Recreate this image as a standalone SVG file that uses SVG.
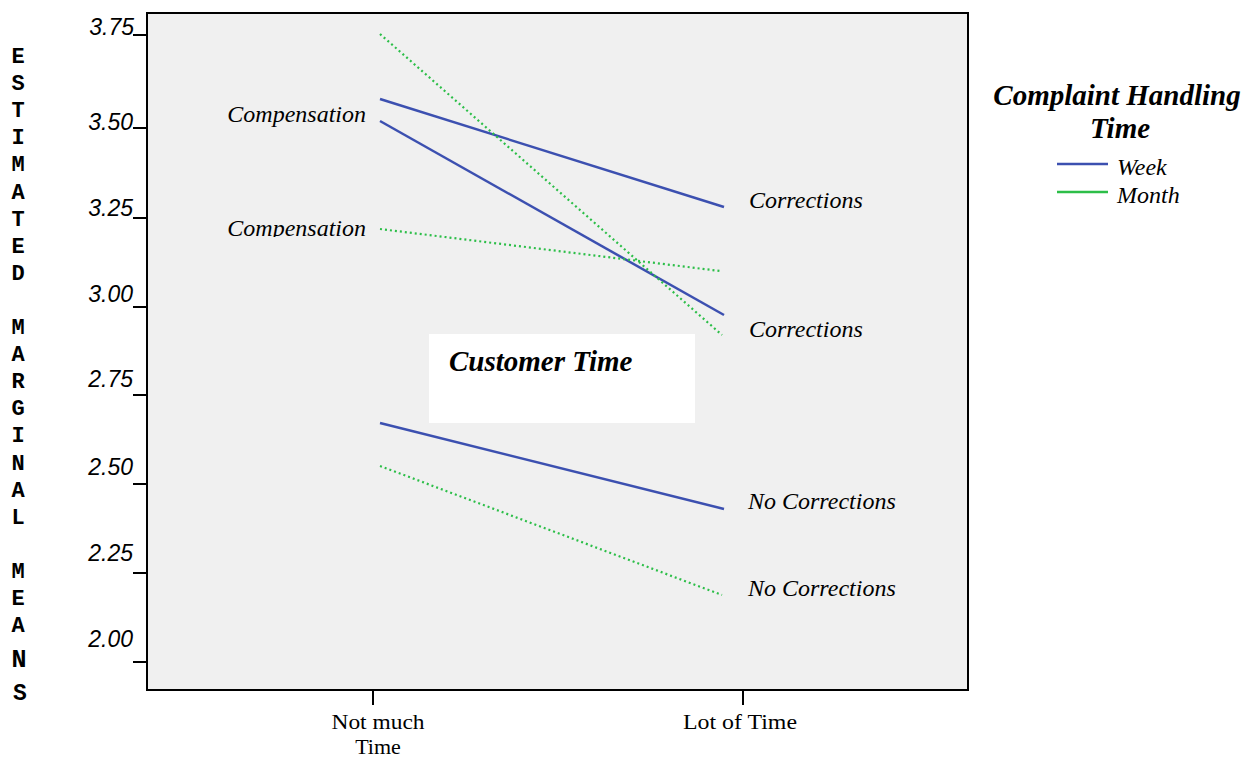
<svg xmlns="http://www.w3.org/2000/svg" width="1245" height="758" viewBox="0 0 1245 758">
<style>
.tick{stroke:#000;stroke-width:2;fill:none}
.ylab{font-family:"Liberation Sans",Arial,sans-serif;font-style:italic;font-size:23px;fill:#000;text-anchor:end}
.xlab{font-family:"Liberation Serif","Times New Roman",serif;font-size:22px;fill:#000;text-anchor:middle}
.ax{font-family:"Liberation Mono","Courier New",monospace;font-weight:bold;font-size:22px;fill:#000;text-anchor:middle}
.lbl{font-family:"Liberation Serif","Times New Roman",serif;font-style:italic;font-size:24px;fill:#000}
.week{stroke:#3C50B0;stroke-width:2.5;fill:none}
.month{stroke:#2CBE48;stroke-width:2.2;fill:none;stroke-dasharray:2 3}
.title{font-family:"Liberation Serif","Times New Roman",serif;font-style:italic;font-weight:bold;font-size:29px;fill:#000}
.leg{font-family:"Liberation Serif","Times New Roman",serif;font-style:italic;font-size:24px;fill:#000}
</style>
<defs>
<clipPath id="clipComp"><rect x="200" y="200" width="180" height="37"/></clipPath>
</defs>
<rect width="1245" height="758" fill="#fff"/>
<g id="plot">
<rect x="147" y="13" width="821" height="677" fill="#F0F0F0" stroke="#000" stroke-width="2"/>
</g>
<g id="y-axis">
<path class="tick" d="M133 35H147M133 128H147M133 218H147M133 307H147M133 395H147M133 484H147M133 573H147M133 662H147"/>
<text class="ylab" x="134" y="35">3.75</text>
<text class="ylab" x="133" y="130">3.50</text>
<text class="ylab" x="133" y="216">3.25</text>
<text class="ylab" x="133" y="302">3.00</text>
<text class="ylab" x="133" y="387">2.75</text>
<text class="ylab" x="133" y="475">2.50</text>
<text class="ylab" x="133" y="561">2.25</text>
<text class="ylab" x="133" y="647">2.00</text>
</g>
<g id="x-axis">
<path class="tick" d="M373 690V705M743 690V705"/>
<text class="xlab" x="378" y="729" textLength="93" lengthAdjust="spacingAndGlyphs">Not much</text>
<text class="xlab" x="378" y="754">Time</text>
<text class="xlab" x="740" y="729" textLength="114" lengthAdjust="spacingAndGlyphs">Lot of Time</text>
</g>
<g id="y-title">
<text class="ax" x="18" y="63">E</text>
<text class="ax" x="18" y="90">S</text>
<text class="ax" x="18" y="117">T</text>
<text class="ax" x="18" y="144">I</text>
<text class="ax" x="18" y="171">M</text>
<text class="ax" x="18" y="199">A</text>
<text class="ax" x="18" y="226">T</text>
<text class="ax" x="18" y="253">E</text>
<text class="ax" x="18" y="280">D</text>
<text class="ax" x="18" y="334">M</text>
<text class="ax" x="18" y="361">A</text>
<text class="ax" x="18" y="388">R</text>
<text class="ax" x="18" y="415">G</text>
<text class="ax" x="18" y="442">I</text>
<text class="ax" x="18" y="470">N</text>
<text class="ax" x="18" y="497">A</text>
<text class="ax" x="18" y="524">L</text>
<text class="ax" x="18" y="578">M</text>
<text class="ax" x="18" y="605">E</text>
<text class="ax" x="18" y="632">A</text>
<text class="ax" x="19" y="667" style="font-size:25px">N</text>
<text class="ax" x="20" y="700" style="font-size:23px">S</text>
</g>
<g id="connectors">
<line class="week" x1="380" y1="99" x2="724" y2="207"/>
<line class="week" x1="380" y1="121" x2="724" y2="315"/>
<line class="month" x1="380" y1="34" x2="722" y2="335"/>
<line class="month" x1="380" y1="229" x2="720" y2="271"/>
<line class="week" x1="380" y1="423" x2="724" y2="509"/>
<line class="month" x1="380" y1="466" x2="722" y2="595"/>
</g>
<g id="labels">
<text class="lbl" x="366" y="122" text-anchor="end">Compensation</text>
<text class="lbl" x="366" y="236" text-anchor="end" clip-path="url(#clipComp)">Compensation</text>
<text class="lbl" x="749" y="208">Corrections</text>
<text class="lbl" x="749" y="337">Corrections</text>
<text class="lbl" x="748" y="509">No Corrections</text>
<text class="lbl" x="748" y="596">No Corrections</text>
</g>
<g id="customer-time">
<rect x="429" y="334" width="266" height="89" fill="#fff"/>
<text class="title" x="449" y="371">Customer Time</text>
</g>
<g id="legend">
<text class="title" x="1117" y="105" text-anchor="middle">Complaint Handling</text>
<text class="title" x="1120" y="138" text-anchor="middle">Time</text>
<line x1="1057" y1="164" x2="1108" y2="164" stroke="#3C50B0" stroke-width="2.5"/>
<line x1="1057" y1="192" x2="1108" y2="192" stroke="#2CBE48" stroke-width="2.5"/>
<text class="leg" x="1117" y="175">Week</text>
<text class="leg" x="1117" y="203">Month</text>
</g>
</svg>
